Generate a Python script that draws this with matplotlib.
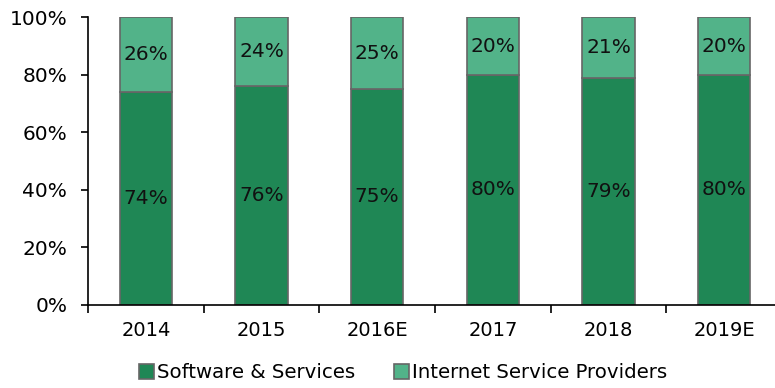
import numpy as np
import matplotlib.pyplot as plt
from matplotlib.ticker import FuncFormatter, FixedLocator

years = ["2014", "2015", "2016E", "2017", "2018", "2019E"]
software = [74, 76, 75, 80, 79, 80]
isp = [26, 24, 25, 20, 21, 20]

dark = "#1f8755"
light = "#52b389"
edge = "#666666"

plt.rcParams['font.family'] = ['DejaVu Sans']

fig = plt.figure(figsize=(7.75, 3.88), dpi=100)
ax = fig.add_axes([88/775, (388-304.5)/388, 694/775, (304.5-17.3)/388])

x = np.arange(len(years))
b1 = ax.bar(x, software, width=0.45, color=dark, edgecolor=edge, linewidth=1.2,
            label="Software & Services")
b2 = ax.bar(x, isp, width=0.45, bottom=software, color=light, edgecolor=edge,
            linewidth=1.2, label="Internet Service Providers")

for i in range(len(years)):
    ax.text(x[i], software[i] / 2, f"{software[i]}%", ha="center", va="center",
            fontsize=14.5, color="#111111")
    ax.text(x[i], software[i] + isp[i] / 2, f"{isp[i]}%", ha="center", va="center",
            fontsize=14.5, color="#111111")

ax.set_xlim(-0.5, len(years) - 0.5)
ax.set_ylim(0, 100)
ax.set_yticks(np.arange(0, 101, 20))
ax.yaxis.set_major_formatter(FuncFormatter(lambda v, p: f"{v:.0f}%"))
ax.tick_params(axis="y", labelsize=14.5, length=5, width=1.2, pad=10, colors="black")

# category labels in the middle, tick marks between categories
ax.set_xticks(x)
ax.set_xticklabels(years)
ax.tick_params(axis="x", which="major", length=0, labelsize=14, pad=12)
ax.xaxis.set_minor_locator(FixedLocator(np.arange(-0.5, len(years), 1)))
ax.tick_params(axis="x", which="minor", length=6, width=1.2)

for s in ["top", "right"]:
    ax.spines[s].set_visible(False)
ax.spines["left"].set_linewidth(1.2)
ax.spines["bottom"].set_linewidth(1.2)

fig.legend(handles=[b1, b2], loc="center", bbox_to_anchor=(403/775, 1 - 373/388),
           ncol=2, frameon=False, fontsize=14.2, handlelength=0.75, handleheight=0.75,
           handletextpad=0.15, columnspacing=2.0)

plt.savefig("out.png", dpi=100)
